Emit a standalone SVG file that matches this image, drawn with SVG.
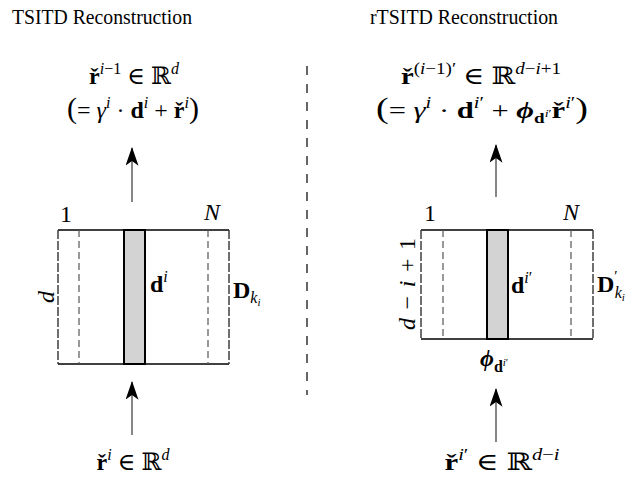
<svg xmlns="http://www.w3.org/2000/svg" width="644" height="483" viewBox="0 0 644 483" font-family="'Liberation Serif','DejaVu Serif',serif">
<style>
text{font-family:"Liberation Serif","DejaVu Serif",serif;fill:#000}
.t{font-size:20px}
.m{font-size:24px}
.b{font-weight:bold}
.i{font-style:italic}
.bi{font-weight:bold;font-style:italic}
.sup{font-size:16px}
.edge{stroke:#000;stroke-width:1.6;fill:none}
.side{stroke:#333;stroke-width:1.4;stroke-dasharray:9 2;fill:none}
.inner{stroke:#555;stroke-width:1.2;stroke-dasharray:7 4;fill:none}
.bar{fill:#d3d3d3;stroke:#000;stroke-width:2}
.div{stroke:#000;stroke-width:1.2;stroke-dasharray:9 9;fill:none}
.arr{stroke:#444;stroke-width:1.3;fill:none;marker-end:url(#ah)}
</style>
<defs>
<marker id="ah" viewBox="0 0 20 14" refX="19" refY="7" markerWidth="20" markerHeight="13" markerUnits="userSpaceOnUse" orient="auto">
<path d="M0,0 L20,7 L0,14 L5,7 Z" fill="#000"/>
</marker>
</defs>

<g id="titles">
<text class="t" x="12" y="24" textLength="180" lengthAdjust="spacingAndGlyphs">TSITD Reconstruction</text>
<text class="t" x="370" y="24" textLength="188" lengthAdjust="spacingAndGlyphs">rTSITD Reconstruction</text>
</g>

<g id="divider"><line class="div" x1="307" y1="66" x2="307" y2="395"/></g>

<g id="left-output">
<text class="m" x="134" y="84" text-anchor="middle"><tspan class="b">ř</tspan><tspan dy="-10" class="sup i">i</tspan><tspan class="sup">−1</tspan><tspan dy="10"> ∈ ℝ</tspan><tspan dy="-10" class="sup i">d</tspan></text>
<text class="m" x="133" y="118" text-anchor="middle"><tspan font-size="30">(</tspan>= <tspan class="i">γ</tspan><tspan dy="-10" class="sup i">i</tspan><tspan dy="10"> · </tspan><tspan class="b">d</tspan><tspan dy="-10" class="sup i">i</tspan><tspan dy="10"> + </tspan><tspan class="b">ř</tspan><tspan dy="-10" class="sup i">i</tspan><tspan dy="10" font-size="30">)</tspan></text>
</g>

<g id="left-box">
<line class="edge" x1="58" y1="230" x2="229" y2="230"/>
<line class="edge" x1="58" y1="364" x2="229" y2="364"/>
<line class="side" x1="58" y1="230" x2="58" y2="364"/>
<line class="side" x1="229" y1="230" x2="229" y2="364"/>
<line class="inner" x1="79" y1="230" x2="79" y2="364"/>
<line class="inner" x1="208" y1="230" x2="208" y2="364"/>
<rect class="bar" x="124" y="230" width="21" height="134"/>
<text class="m" x="66" y="222" text-anchor="middle">1</text>
<text class="m i" x="212" y="220" text-anchor="middle">N</text>
<text class="m i" transform="translate(54,297) rotate(-90)" text-anchor="middle">d</text>
<text class="m" x="150" y="292"><tspan class="b">d</tspan><tspan dy="-10" class="sup i">i</tspan></text>
<text x="233" y="298" font-size="24"><tspan class="b">D</tspan><tspan dy="5" class="sup i">k</tspan><tspan dy="3" font-size="11" class="i">i</tspan></text>
</g>

<g id="left-input">
<text class="m" x="133" y="470" text-anchor="middle"><tspan class="b">ř</tspan><tspan dy="-10" class="sup i">i</tspan><tspan dy="10"> ∈ ℝ</tspan><tspan dy="-10" class="sup i">d</tspan></text>
</g>

<g id="right-output">
<text class="m" x="481" y="84" text-anchor="middle" textLength="160" lengthAdjust="spacingAndGlyphs"><tspan class="b">ř</tspan><tspan dy="-10" class="sup">(</tspan><tspan class="sup i">i</tspan><tspan class="sup">−1)′</tspan><tspan dy="10"> ∈ ℝ</tspan><tspan dy="-10" class="sup"><tspan class="i">d</tspan>−<tspan class="i">i</tspan>+1</tspan></text>
<text class="m" x="482" y="118" text-anchor="middle" textLength="212" lengthAdjust="spacingAndGlyphs"><tspan font-size="30">(</tspan>= <tspan class="i">γ</tspan><tspan dy="-10" class="sup i">i</tspan><tspan dy="10"> · </tspan><tspan class="b">d</tspan><tspan dy="-10" class="sup"><tspan class="i">i</tspan>′</tspan><tspan dy="10"> + </tspan><tspan class="bi">ϕ</tspan><tspan dy="5" font-size="15" class="b">d</tspan><tspan dy="-6" font-size="11"><tspan class="i">i</tspan>′</tspan><tspan dy="1" class="b">ř</tspan><tspan dy="-10" class="sup"><tspan class="i">i</tspan>′</tspan><tspan dy="10" font-size="30">)</tspan></text>
</g>

<g id="right-box">
<line class="edge" x1="421" y1="230" x2="593" y2="230"/>
<line class="edge" x1="421" y1="339" x2="593" y2="339"/>
<line class="side" x1="421" y1="230" x2="421" y2="339"/>
<line class="side" x1="593" y1="230" x2="593" y2="339"/>
<line class="inner" x1="443" y1="230" x2="443" y2="339"/>
<line class="inner" x1="571" y1="230" x2="571" y2="339"/>
<rect class="bar" x="487" y="230" width="21" height="109"/>
<text class="m" x="430" y="221" text-anchor="middle">1</text>
<text class="m i" x="571" y="220" text-anchor="middle">N</text>
<text class="m" transform="translate(415,284) rotate(-90)" text-anchor="middle" textLength="92" lengthAdjust="spacing"><tspan class="i">d</tspan> − <tspan class="i">i</tspan> + 1</text>
<text class="m" x="511" y="293"><tspan class="b">d</tspan><tspan dy="-10" class="sup"><tspan class="i">i</tspan>′</tspan></text>
<text x="597" y="292" font-size="24"><tspan class="b">D</tspan><tspan dy="-11" font-size="15">′</tspan><tspan dx="-3" dy="17" class="sup i">k</tspan><tspan dy="3" font-size="11" class="i">i</tspan></text>
<text x="480" y="366" font-size="24"><tspan class="bi">ϕ</tspan><tspan dy="6" font-size="16" class="b">d</tspan><tspan dy="-6" font-size="11"><tspan class="i">i</tspan>′</tspan></text>
</g>

<g id="right-input">
<text class="m" x="502" y="470" text-anchor="middle" textLength="115" lengthAdjust="spacingAndGlyphs"><tspan class="b">ř</tspan><tspan dy="-10" class="sup"><tspan class="i">i</tspan>′</tspan><tspan dy="10"> ∈ ℝ</tspan><tspan dy="-10" class="sup"><tspan class="i">d</tspan>−<tspan class="i">i</tspan></tspan></text>
</g>

<g id="connectors">
<line class="arr" x1="132" y1="202" x2="132" y2="148"/>
<line class="arr" x1="132" y1="435" x2="132" y2="382"/>
<line class="arr" x1="496" y1="197" x2="496" y2="145"/>
<line class="arr" x1="496" y1="442" x2="496" y2="389"/>
</g>
</svg>
